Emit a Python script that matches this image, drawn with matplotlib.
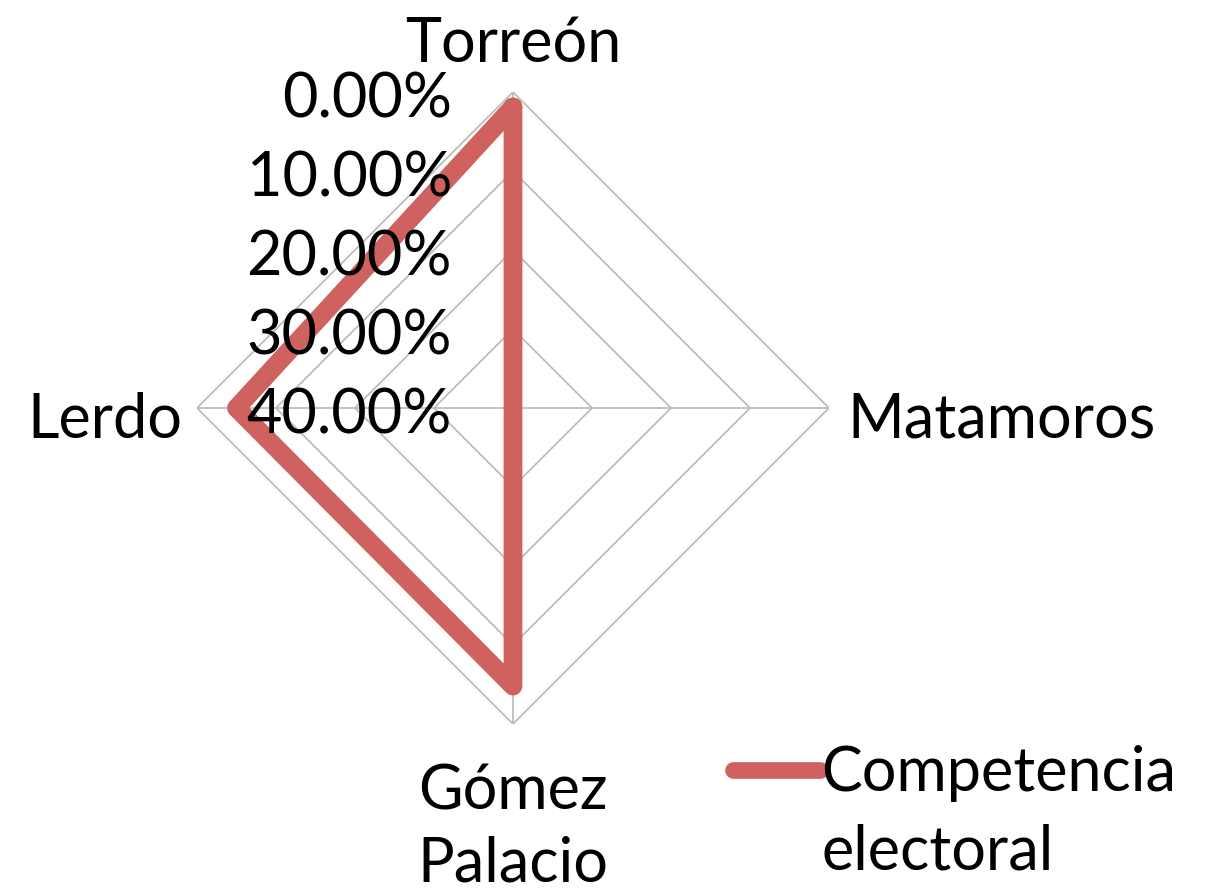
import numpy as np
import matplotlib
matplotlib.use('Agg')
import matplotlib.pyplot as plt

plt.rcParams['font.family'] = ['Lato', 'DejaVu Sans']

# data (axis is reversed: 0% at the rim, 40% at the centre)
categories = ['Torreón', 'Matamoros', 'Gómez\nPalacio', 'Lerdo']
competencia = [0.019, 0.40, 0.048, 0.05]
rticks = [0.0, 0.10, 0.20, 0.30, 0.40]
rtick_labels = ['0.00%', '10.00%', '20.00%', '30.00%', '40.00%']
series_name = 'Competencia'

line_color = '#CF615E'
grid_color = '#BDBDBD'

W, H = 1208, 891
fig = plt.figure(figsize=(W / 100, H / 100), dpi=100)
cx, cy, rad = 513, 408, 316
ax = fig.add_axes([(cx - rad) / W, (H - cy - rad) / H, 2 * rad / W, 2 * rad / H],
                  projection='polar')
ax.set_theta_zero_location('N')
ax.set_theta_direction(-1)

angles = np.arange(len(categories)) * 2 * np.pi / len(categories)
ax.set_ylim(0.40, 0.0)

# polygon grid instead of circles
ax.yaxis.grid(False)
ax.set_yticklabels([])
ax.set_xticks(angles)
ax.set_xticklabels([])
ax.xaxis.grid(True, color=grid_color, linewidth=1.3)
ax.spines['polar'].set_visible(False)
ax.tick_params(length=0)
closed = np.append(angles, angles[0])
for r in rticks[:-1]:
    ax.plot(closed, [r] * len(closed), color=grid_color, linewidth=1.3, zorder=1)

vals = competencia + competencia[:1]
line, = ax.plot(closed, vals, color=line_color, linewidth=13.5,
                solid_joinstyle='round', solid_capstyle='round', zorder=3)

fs = 44

# radial value labels
for r, lab in zip(rticks, rtick_labels):
    ax.annotate(lab, xy=(0, r), xytext=(-61, -8), textcoords='offset pixels',
                ha='right', va='center', fontsize=fs, zorder=5)

# category labels
ax.annotate(categories[0], xy=(angles[0], 0), xytext=(0, 48), textcoords='offset pixels',
            ha='center', va='center', fontsize=fs)
ax.annotate(categories[1], xy=(angles[1], 0), xytext=(18, -12), textcoords='offset pixels',
            ha='left', va='center', fontsize=fs)
ax.annotate(categories[2], xy=(angles[2], 0), xytext=(0, -104), textcoords='offset pixels',
            ha='center', va='center', fontsize=fs, linespacing=1.32)
ax.annotate(categories[3], xy=(angles[3], 0), xytext=(-15, -12), textcoords='offset pixels',
            ha='right', va='center', fontsize=fs)

leg = fig.legend([line], [series_name], loc='center left',
                 bbox_to_anchor=(733 / W, 1 - 774 / H), frameon=False,
                 borderpad=0, borderaxespad=0,
                 fontsize=fs, handlelength=1.42, handletextpad=0.03)
leg.get_lines()[0].set_linewidth(12)
fig.text(822 / W, 1 - 852 / H, 'electoral', ha='left', va='center', fontsize=fs)

fig.savefig('out.png', dpi=100)
